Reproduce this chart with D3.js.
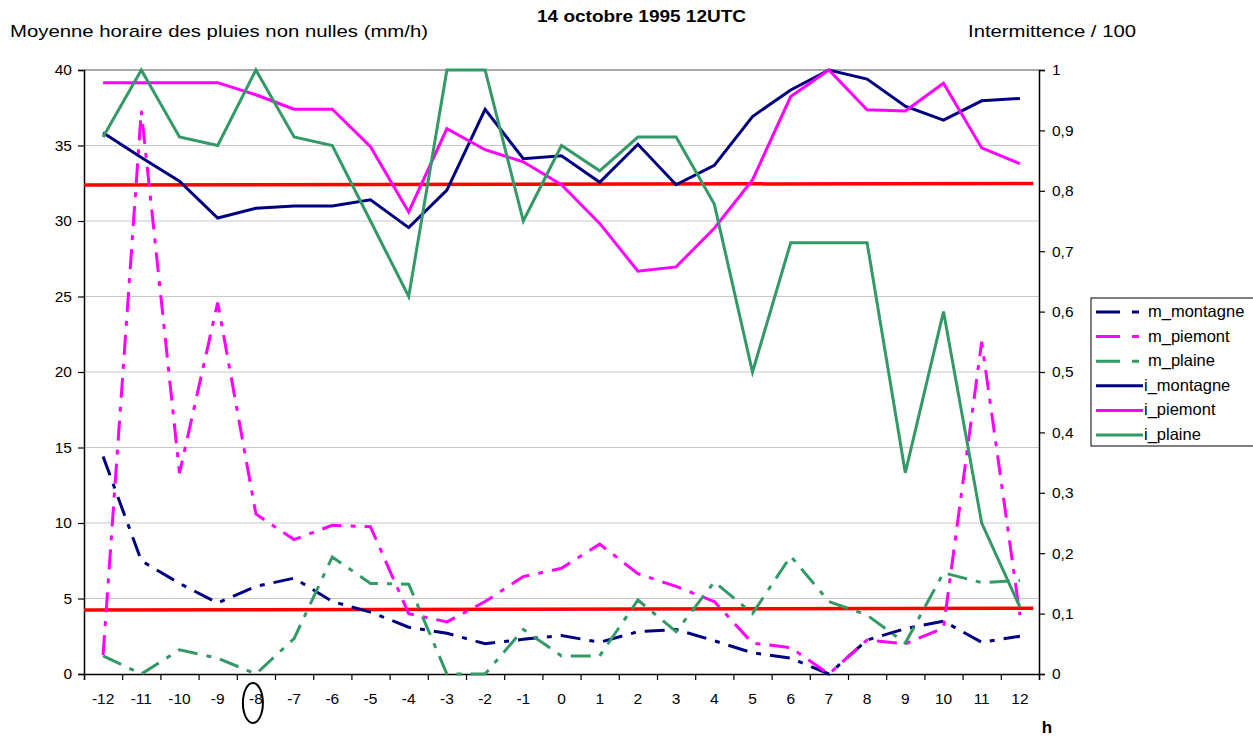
<!DOCTYPE html>
<html>
<head>
<meta charset="utf-8">
<script src="https://cdn.jsdelivr.net/npm/d3@7"></script>
<style>
  body { margin: 0; background: #fff; }
  svg { display: block; font-family: "Liberation Sans", Arial, sans-serif; }
</style>
</head>
<body>
<svg id="chart" width="1253" height="738"></svg>
<script>
// Hours relative to 12UTC
const hours = d3.range(-12, 13);

// Mean hourly rain of non-zero values (mm/h), left axis
const mMontagne = [14.4, 7.5, 6.0, 4.7, 5.8, 6.35, 4.8, 4.1, 3.1, 2.7, 2.0, 2.3, 2.55, 2.1, 2.8, 2.95, 2.2, 1.4, 1.05, 0, 2.25, 3.0, 3.5, 2.1, 2.5];
const mPiemont  = [1.25, 37.3, 13.3, 24.6, 10.6, 8.9, 9.85, 9.75, 4.0, 3.45, 4.8, 6.45, 7.0, 8.6, 6.65, 5.8, 4.8, 2.05, 1.75, 0, 2.25, 2.0, 3.05, 22.0, 3.9];
const mPlaine   = [1.2, 0, 1.6, 1.05, 0, 2.35, 7.75, 6.0, 5.95, 0, 0, 2.95, 1.2, 1.2, 4.9, 2.8, 6.1, 4.0, 7.8, 4.8, 3.9, 2.05, 6.7, 6.05, 6.2];

// Intermittence / 100, right axis
const iMontagne = [0.896, 0.855, 0.816, 0.755, 0.771, 0.775, 0.775, 0.785, 0.739, 0.801, 0.935, 0.853, 0.858, 0.814, 0.877, 0.810, 0.842, 0.923, 0.967, 1.0, 0.985, 0.940, 0.917, 0.949, 0.953];
const iPiemont  = [0.979, 0.979, 0.979, 0.979, 0.959, 0.935, 0.935, 0.873, 0.765, 0.903, 0.868, 0.848, 0.810, 0.746, 0.667, 0.674, 0.738, 0.818, 0.956, 1.0, 0.934, 0.932, 0.978, 0.871, 0.845];
const iPlaine   = [0.889, 1.0, 0.889, 0.875, 1.0, 0.889, 0.875, 0.75, 0.625, 1.0, 1.0, 0.75, 0.875, 0.833, 0.889, 0.889, 0.778, 0.5, 0.714, 0.714, 0.714, 0.333, 0.6, 0.25, 0.111];

// Reference levels (left axis), drawn across the plot
const refStart = [-12.5, -12.5];
const refEnd   = [12.35, 12.35];
const refFrom  = [32.38, 4.24];
const refTo    = [32.49, 4.35];

const leftTicks  = d3.range(0, 41, 5);
const rightTicks = d3.range(0, 11).map(d => d / 10);

const seriesNames  = ["m_montagne", "m_piemont", "m_plaine", "i_montagne", "i_piemont", "i_plaine"];
const seriesValues = [mMontagne, mPiemont, mPlaine, iMontagne, iPiemont, iPlaine];
const seriesAxis   = ["left", "left", "left", "right", "right", "right"];
const seriesColors = ["#000080", "#ff00ff", "#339966", "#000080", "#ff00ff", "#339966"];

const svg = d3.select("#chart");
const plotL = 84, plotR = 1039, plotT = 70, plotB = 674;

const x = d3.scaleLinear().domain([-12.5, 12.5]).range([plotL, plotR]);
const yL = d3.scaleLinear().domain([0, 40]).range([plotB, plotT]);
const yR = d3.scaleLinear().domain([0, 1]).range([plotB, plotT]);

// gridlines
svg.append("g").selectAll("line").data(leftTicks.filter(d => d > 0)).join("line")
  .attr("x1", plotL).attr("x2", plotR)
  .attr("y1", d => yL(d)).attr("y2", d => yL(d))
  .attr("stroke", d => d === 40 ? "#8a8a8a" : "#c8c8c8")
  .attr("stroke-width", d => d === 40 ? 1.5 : 1);

// left axis
const axL = svg.append("g").attr("transform", `translate(${plotL},0)`)
  .call(d3.axisLeft(yL).tickValues(leftTicks).tickSize(6).tickPadding(6).tickFormat(d3.format("d")));
// right axis
const fmtR = d => d === 0 ? "0" : d === 1 ? "1" : String(d).replace(".", ",");
const axR = svg.append("g").attr("transform", `translate(${plotR},0)`)
  .call(d3.axisRight(yR).tickValues(rightTicks).tickSize(6).tickPadding(7).tickFormat(fmtR));
// bottom axis: category boundaries as ticks, hour labels between them
const axB = svg.append("g").attr("transform", `translate(0,${plotB})`)
  .call(d3.axisBottom(x).tickValues(d3.range(-12.5, 12.6, 1)).tickSize(6).tickFormat(""));
svg.append("g").selectAll("text").data(hours).join("text")
  .attr("x", d => x(d)).attr("y", plotB + 30)
  .attr("text-anchor", "middle").attr("font-size", 15.5).attr("fill", "#000")
  .text(d => d);

[axL, axR, axB].forEach(g => {
  g.select(".domain").attr("stroke", "#000").attr("stroke-width", 1.5);
  g.selectAll(".tick line").attr("stroke", "#000").attr("stroke-width", 1.2);
  g.selectAll(".tick text").attr("font-size", 15.5).attr("fill", "#000")
    .attr("font-family", "'Liberation Sans', Arial, sans-serif");
});

// reference lines
svg.append("g").selectAll("line").data(refFrom).join("line")
  .attr("x1", (d, i) => x(refStart[i])).attr("x2", (d, i) => x(refEnd[i]))
  .attr("y1", d => yL(d)).attr("y2", (d, i) => yL(refTo[i]))
  .attr("stroke", "#ff0000").attr("stroke-width", 3.5);

// series
const dashPattern = "20,9,5,9";
seriesValues.forEach((vals, k) => {
  const y = seriesAxis[k] === "left" ? yL : yR;
  const line = d3.line().x((d, i) => x(hours[i])).y(d => y(d));
  svg.append("path").datum(vals)
    .attr("d", line)
    .attr("fill", "none")
    .attr("stroke", seriesColors[k])
    .attr("stroke-width", 3)
    .attr("stroke-linejoin", "miter")
    .attr("stroke-dasharray", seriesAxis[k] === "left" ? dashPattern : null);
});

// titles
svg.append("text").attr("x", 537).attr("y", 22)
  .attr("font-size", 16).attr("font-weight", "bold")
  .attr("textLength", 209).attr("lengthAdjust", "spacingAndGlyphs")
  .text("14 octobre 1995 12UTC");
svg.append("text").attr("x", 10).attr("y", 37).attr("font-size", 17)
  .attr("textLength", 418).attr("lengthAdjust", "spacingAndGlyphs")
  .text("Moyenne horaire des pluies non nulles (mm/h)");
svg.append("text").attr("x", 968).attr("y", 37).attr("font-size", 17)
  .attr("textLength", 168).attr("lengthAdjust", "spacingAndGlyphs")
  .text("Intermittence / 100");
svg.append("text").attr("x", 1047).attr("y", 733).attr("text-anchor", "middle")
  .attr("font-size", 17).attr("font-weight", "bold").text("h");

// mark around the -8 label
svg.append("ellipse").attr("cx", x(-8) - 3).attr("cy", 703).attr("rx", 10).attr("ry", 20)
  .attr("fill", "none").attr("stroke", "#000").attr("stroke-width", 2);

// legend
const lg = svg.append("g").attr("transform", "translate(1091,298)");
lg.append("rect").attr("x", 0).attr("y", 0).attr("width", 200).attr("height", 148)
  .attr("fill", "#fff").attr("stroke", "#000").attr("stroke-width", 1);
const items = lg.selectAll("g").data(seriesNames).join("g")
  .attr("transform", (d, i) => `translate(0,${14 + i * 24.6})`);
items.append("line").attr("x1", 5).attr("x2", 52).attr("y1", 0).attr("y2", 0)
  .attr("stroke", (d, i) => seriesColors[i]).attr("stroke-width", 3)
  .attr("stroke-dasharray", (d, i) => seriesAxis[i] === "left" ? "24,12,7,20" : null);
items.append("text").attr("x", (d, i) => seriesAxis[i] === "left" ? 57 : 53).attr("y", 5)
  .attr("font-size", 16.5).text(d => d);
</script>
</body>
</html>
